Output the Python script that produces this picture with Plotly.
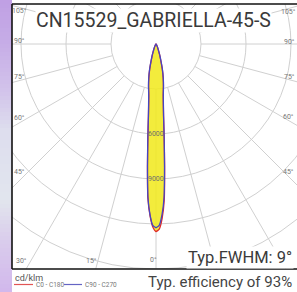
import numpy as np
import plotly.graph_objects as go

# ---------------- data ----------------
TITLE = "CN15529_GABRIELLA-45-S"
UNIT = "cd/klm"
SERIES_NAMES = ["C0 - C180", "C90 - C270"]
GAMMA = [0, 1, 2, 3, 4, 5, 6, 7, 8, 9, 10, 12, 14, 16, 18, 20, 25, 30, 40, 50, 60, 90]
C0 = [12500, 12350, 11650, 10450, 8250, 6250, 4800, 4000, 3450, 3120, 2850, 2300, 1750, 1200, 850, 580, 250, 100, 30, 10, 0, 0]
C180 = [12500, 12200, 11450, 10300, 8150, 6200, 4800, 4000, 3450, 3120, 2850, 2300, 1750, 1200, 850, 580, 250, 100, 30, 10, 0, 0]
C90_270 = [12250, 12100, 11400, 10250, 8150, 6250, 4850, 4050, 3500, 3150, 2880, 2330, 1780, 1230, 870, 590, 255, 100, 30, 10, 0, 0]
RADIAL_TICKS = [3000, 6000, 9000, 12000, 15000, 18000]
RADIAL_LABELS = {6000: "6000", 9000: "9000"}
ANGLE_TICKS = [0, 15, 30, 45, 60, 75, 90, 105, 120, 135, 150, 165, 180]
FWHM_TEXT = "Typ.FWHM: 9°"
EFF_TEXT = "Typ. efficiency of 93%"

# ---------------- geometry ----------------
W, H = 297, 292
PL, PR, PT, PB = 12, 297, 4, 269      # plot box in pixels
CX, CY = 156, 44                      # pole position in pixels
K = 45 / 3000                         # pixels per cd/klm


def dx(px):
    return (px - CX) / K


def dy(py):
    return (CY - py) / K


def ppx(px):
    return (px - PL) / (PR - PL)


def ppy(py):
    return (PB - py) / (PB - PT)


def lobe(left, right):
    g = np.radians(np.array(GAMMA, dtype=float))
    l = np.array(left, dtype=float)
    r = np.array(right, dtype=float)
    xl, yl = -l * np.sin(g), -l * np.cos(g)
    xr, yr = r * np.sin(g), -r * np.cos(g)
    x = np.concatenate([xl[::-1], xr[1:]])
    y = np.concatenate([yl[::-1], yr[1:]])
    return x, y


xr_, yr_ = lobe(C180, C0)
xb_, yb_ = lobe(C90_270, C90_270)

fig = go.Figure()
fig.add_trace(go.Scatter(x=xr_, y=yr_, mode="lines", fill="toself",
                         fillcolor="rgba(241,233,28,0.86)",
                         line=dict(color="#e02a2a", width=1.3, shape="spline", smoothing=0.5),
                         name=SERIES_NAMES[0], showlegend=False, hoverinfo="skip"))
fig.add_trace(go.Scatter(x=xb_, y=yb_, mode="lines",
                         line=dict(color="#4646c2", width=1.3, shape="spline", smoothing=0.5),
                         name=SERIES_NAMES[1], showlegend=False, hoverinfo="skip"))

shapes = []
grid = dict(color="#d0d0d0", width=1)
# circles
for r in RADIAL_TICKS:
    shapes.append(dict(type="circle", xref="x", yref="y", x0=-r, x1=r, y0=-r, y1=r,
                       line=grid, layer="below"))
# radial lines (start at the first ring)
r0, r1 = RADIAL_TICKS[0], 25000
for a in ANGLE_TICKS:
    t = np.radians(a)
    for s in ([1] if a in (0, 180) else [-1, 1]):
        shapes.append(dict(type="line", xref="x", yref="y",
                           x0=s * r0 * np.sin(t), y0=-r0 * np.cos(t),
                           x1=s * r1 * np.sin(t), y1=-r1 * np.cos(t),
                           line=grid, layer="below"))

# left gradient strip
strip = [(0, (192, 160, 228)), (40, (198, 172, 231)), (90, (210, 195, 235)),
         (130, (222, 222, 238)), (200, (226, 230, 238)), (240, (218, 205, 236)),
         (292, (210, 184, 236))]
ys = np.arange(0, 293, 4)
for i in range(len(ys) - 1):
    yc = (ys[i] + ys[i + 1]) / 2
    for j in range(len(strip) - 1):
        if strip[j][0] <= yc <= strip[j + 1][0]:
            f = (yc - strip[j][0]) / (strip[j + 1][0] - strip[j][0])
            c = [int(strip[j][1][k] + f * (strip[j + 1][1][k] - strip[j][1][k])) for k in range(3)]
            break
    shapes.append(dict(type="rect", xref="paper", yref="paper",
                       x0=ppx(0), x1=ppx(PL), y0=ppy(ys[i + 1] + 0.5), y1=ppy(ys[i]),
                       fillcolor="rgb(%d,%d,%d)" % tuple(c), line=dict(width=0), layer="above"))

# frame
frame = dict(color="#111111", width=1.6)
shapes.append(dict(type="line", xref="paper", yref="paper", x0=0, x1=0, y0=0, y1=1, line=frame, layer="above"))
shapes.append(dict(type="line", xref="paper", yref="paper", x0=0, x1=1.01, y0=1, y1=1, line=frame, layer="above"))
shapes.append(dict(type="line", xref="paper", yref="paper", x0=0, x1=1.01, y0=0, y1=0, line=frame, layer="above"))

# legend samples
shapes.append(dict(type="line", xref="paper", yref="paper", x0=ppx(14), x1=ppx(33),
                   y0=ppy(284.5), y1=ppy(284.5), line=dict(color="#e25555", width=1.2)))
shapes.append(dict(type="line", xref="paper", yref="paper", x0=ppx(64), x1=ppx(82),
                   y0=ppy(284.5), y1=ppy(284.5), line=dict(color="#6464c4", width=1.2)))

ann = []
small = dict(family="Roboto", size=7, color="#777777")
# angle labels
left_pos = {105: (19, 11), 90: (19, 41), 75: (19, 77), 60: (19, 118), 45: (19, 172), 30: (21, 261)}
right_pos = {105: (288, 12), 90: (289, 42), 75: (289, 77), 60: (288, 117), 45: (288, 172)}
bottom_pos = {15: (91, 261), 0: (153, 260)}
for a, (px, py) in list(left_pos.items()) + list(right_pos.items()) + list(bottom_pos.items()):
    ann.append(dict(x=dx(px), y=dy(py), xref="x", yref="y", text="%d°" % a, showarrow=False,
                    font=small, xanchor="center", yanchor="middle"))
# radial labels
for r, lab in RADIAL_LABELS.items():
    ann.append(dict(x=0, y=-r, xref="x", yref="y", text=lab, showarrow=False,
                    font=dict(family="Roboto", size=7, color="#6f6f6f"), xanchor="center", yanchor="middle"))
# title
ann.append(dict(x=dx(153), y=dy(20), xref="x", yref="y", text=TITLE, showarrow=False,
                font=dict(family="Roboto", size=19.5, color="#3a3a3a"), bgcolor="white",
                xanchor="center", yanchor="middle", borderpad=0))
# FWHM
ann.append(dict(x=dx(294), y=dy(257), xref="x", yref="y", text=FWHM_TEXT, showarrow=False,
                font=dict(family="Roboto", size=16.5, color="#3a3a3a"), bgcolor="white",
                xanchor="right", yanchor="middle", borderpad=1))
# efficiency
ann.append(dict(x=ppx(294), y=ppy(282), xref="paper", yref="paper", text=EFF_TEXT, showarrow=False,
                font=dict(family="Roboto", size=15, color="#444444"), xanchor="right", yanchor="middle"))
# unit + legend texts
ann.append(dict(x=ppx(13), y=ppy(277.5), xref="paper", yref="paper", text=UNIT, showarrow=False,
                font=dict(family="Roboto", size=9, color="#555555"), xanchor="left", yanchor="middle"))
ann.append(dict(x=ppx(33.5), y=ppy(285), xref="paper", yref="paper", text=SERIES_NAMES[0], showarrow=False,
                font=dict(family="Roboto", size=6.5, color="#777777"), xanchor="left", yanchor="middle"))
ann.append(dict(x=ppx(82.5), y=ppy(285), xref="paper", yref="paper", text=SERIES_NAMES[1], showarrow=False,
                font=dict(family="Roboto", size=6.5, color="#777777"), xanchor="left", yanchor="middle"))

fig.update_layout(
    width=W, height=H,
    margin=dict(l=PL, r=W - PR, t=PT, b=H - PB, pad=0),
    paper_bgcolor="white", plot_bgcolor="white",
    xaxis=dict(range=[dx(PL), dx(PR)], visible=False, fixedrange=True),
    yaxis=dict(range=[dy(PB), dy(PT)], visible=False, fixedrange=True),
    shapes=shapes, annotations=ann, showlegend=False,
)
fig.write_html("out.html", config={"displayModeBar": False},
               post_script="document.body.style.margin='0';document.body.style.padding='0';"
                           "document.body.style.overflow='hidden';")
